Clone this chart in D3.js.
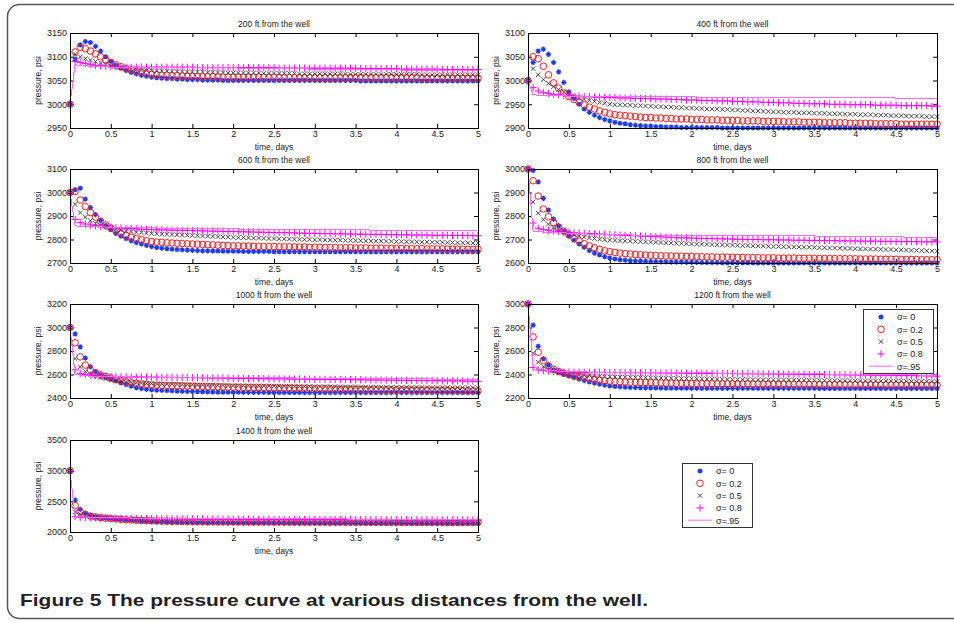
<!DOCTYPE html>
<html>
<head>
<meta charset="utf-8">
<script src="https://cdn.jsdelivr.net/npm/d3@7"></script>
<style>
  body { margin: 0; background: #fff; }
  svg { display: block; }
  text { font-family: "Liberation Sans", Arial, sans-serif; fill: #222; }
</style>
</head>
<body>
<svg id="chart" width="954" height="623"></svg>
<script>
// sample times, days
const times = [0,0.0625,0.125,0.1875,0.25,0.3125,0.375,0.4375,0.5,0.5625,0.625,0.6875,0.75,0.8125,0.875,0.9375,1,
  1.0625,1.125,1.1875,1.25,1.3125,1.375,1.4375,1.5,1.5625,1.625,1.6875,1.75,1.8125,1.875,1.9375,2,
  2.0625,2.125,2.1875,2.25,2.3125,2.375,2.4375,2.5,2.5625,2.625,2.6875,2.75,2.8125,2.875,2.9375,3,
  3.0625,3.125,3.1875,3.25,3.3125,3.375,3.4375,3.5,3.5625,3.625,3.6875,3.75,3.8125,3.875,3.9375,4,
  4.0625,4.125,4.1875,4.25,4.3125,4.375,4.4375,4.5,4.5625,4.625,4.6875,4.75,4.8125,4.875,4.9375,5];

const xTicks = [0, 0.5, 1, 1.5, 2, 2.5, 3, 3.5, 4, 4.5, 5];
const sigmaLabels = ["σ= 0", "σ= 0.2", "σ= 0.5", "σ= 0.8", "σ=.95"];

// 200 ft
const p200_s00 = [3000,3095,3125,3132,3130,3122,3112,3100,3090,3082,3076,3071,3067,3064,3061,3059,3057,
  3056,3055,3054,3054,3053,3053,3052,3052,3052,3051,3051,3051,3051,3050,3050,3050,
  3050,3050,3050,3050,3050,3050,3050,3050,3050,3050,3050,3050,3050,3050,3050,3050,
  3050,3050,3050,3050,3050,3050,3050,3050,3049,3049,3049,3049,3049,3049,3049,3049,
  3049,3049,3049,3049,3049,3049,3049,3049,3049,3049,3049,3049,3049,3049,3049,3049];
const p200_s02 = [3000,3110,3120,3117,3112,3106,3100,3094,3088,3083,3079,3075,3072,3069,3067,3065,3063,
  3062,3061,3061,3060,3060,3059,3059,3059,3058,3058,3058,3058,3057,3057,3057,3057,
  3057,3057,3057,3057,3057,3057,3057,3057,3056,3056,3056,3056,3056,3056,3056,3056,
  3056,3056,3056,3056,3056,3056,3056,3056,3056,3056,3056,3056,3056,3056,3056,3056,
  3056,3056,3056,3056,3055,3055,3055,3055,3055,3055,3055,3055,3055,3055,3055,3055];
const p200_s05 = [3000,3105,3100,3096,3093,3090,3087,3084,3081,3079,3077,3075,3074,3073,3072,3071,3071,
  3070,3070,3070,3069,3069,3069,3068,3068,3068,3068,3067,3067,3067,3067,3066,3066,
  3066,3066,3066,3066,3066,3065,3065,3065,3065,3065,3065,3065,3064,3064,3064,3064,
  3064,3064,3064,3064,3064,3064,3063,3063,3063,3063,3063,3063,3063,3063,3063,3063,
  3063,3063,3063,3063,3062,3062,3062,3062,3062,3062,3062,3062,3062,3062,3062,3062];
const p200_s08 = [3000,3090,3088,3086,3084,3082,3081,3080,3079,3079,3078,3078,3078,3078,3078,3078,3078,
  3078,3078,3078,3078,3078,3078,3078,3078,3077,3077,3077,3077,3077,3077,3077,3077,
  3077,3077,3077,3077,3077,3077,3077,3077,3076,3076,3076,3076,3076,3076,3076,3076,
  3076,3076,3076,3076,3076,3076,3076,3076,3075,3075,3075,3075,3075,3075,3075,3075,
  3074,3074,3074,3074,3074,3074,3074,3074,3073,3073,3073,3073,3073,3073,3073,3073];
const p200_s095 = [3000,3083,3082,3081,3080,3080,3079,3079,3078,3078,3078,3077,3077,3077,3077,3077,3077,
  3077,3077,3077,3077,3077,3077,3077,3077,3077,3077,3077,3077,3077,3077,3077,3077,
  3076,3076,3076,3076,3076,3076,3076,3076,3076,3076,3076,3076,3076,3076,3073,3073,
  3073,3073,3073,3073,3073,3073,3073,3073,3073,3073,3073,3073,3073,3073,3073,3073,
  3072,3072,3072,3072,3072,3072,3072,3072,3072,3072,3072,3072,3072,3072,3072,3072];

// 400 ft
const p400_s00 = [3000,3038,3062,3066,3055,3038,3018,2996,2976,2962,2950,2940,2933,2927,2922,2918,2915,
  2912,2910,2909,2907,2906,2905,2904,2904,2903,2903,2902,2902,2902,2901,2901,2901,
  2901,2901,2901,2901,2901,2900,2900,2900,2900,2900,2900,2900,2900,2900,2900,2900,
  2900,2900,2900,2900,2900,2900,2900,2900,2900,2900,2900,2900,2900,2900,2900,2900,
  2900,2900,2900,2900,2900,2900,2900,2900,2900,2900,2900,2900,2900,2900,2900,2900];
const p400_s02 = [3000,3050,3046,3030,3012,2995,2984,2974,2966,2960,2954,2949,2944,2940,2936,2933,2930,
  2928,2927,2926,2925,2924,2923,2922,2922,2921,2921,2920,2920,2919,2919,2919,2918,
  2918,2918,2917,2917,2917,2916,2916,2916,2916,2915,2915,2915,2915,2914,2914,2914,
  2914,2913,2913,2913,2913,2912,2912,2912,2912,2911,2911,2911,2911,2911,2910,2910,
  2910,2910,2910,2909,2909,2909,2909,2909,2908,2908,2908,2908,2908,2908,2908,2908];
const p400_s05 = [3000,3025,3012,3002,2994,2987,2981,2976,2971,2967,2964,2961,2958,2956,2954,2952,2950,
  2949,2949,2948,2948,2947,2947,2946,2946,2945,2945,2944,2944,2943,2943,2942,2942,
  2941,2941,2940,2940,2940,2939,2939,2938,2938,2937,2937,2936,2936,2935,2935,2934,
  2934,2933,2933,2933,2932,2932,2932,2931,2931,2931,2930,2930,2930,2929,2929,2929,
  2928,2928,2928,2927,2927,2927,2926,2926,2926,2925,2925,2925,2925,2924,2924,2924];
const p400_s08 = [3000,2985,2978,2975,2973,2971,2970,2969,2968,2967,2967,2966,2966,2965,2965,2964,2964,
  2964,2963,2963,2963,2962,2962,2962,2962,2961,2961,2961,2960,2960,2960,2959,2959,
  2959,2958,2958,2958,2957,2957,2957,2956,2956,2956,2955,2955,2955,2954,2954,2954,
  2953,2953,2953,2952,2952,2952,2951,2951,2951,2951,2950,2950,2950,2950,2949,2949,
  2949,2949,2949,2948,2948,2948,2948,2948,2947,2947,2947,2947,2947,2947,2946,2946];
const p400_s095 = [3000,2970,2969,2969,2969,2968,2968,2968,2967,2967,2967,2967,2966,2966,2966,2966,2966,
  2966,2966,2966,2966,2966,2966,2966,2966,2966,2966,2966,2966,2966,2966,2966,2966,
  2965,2965,2965,2965,2965,2965,2965,2965,2965,2965,2965,2965,2965,2965,2965,2965,
  2965,2965,2965,2965,2965,2965,2965,2965,2965,2965,2965,2965,2965,2965,2965,2965,
  2964,2964,2964,2964,2964,2964,2964,2963,2963,2963,2963,2963,2962,2962,2962,2962];

// 600 ft
const p600_s00 = [3000,3012,3018,2972,2936,2906,2881,2860,2842,2826,2814,2804,2795,2787,2781,2775,2770,
  2766,2763,2761,2759,2757,2756,2755,2754,2753,2752,2752,2751,2751,2750,2750,2750,
  2750,2749,2749,2749,2749,2749,2749,2748,2748,2748,2748,2748,2748,2748,2748,2748,
  2748,2748,2748,2748,2748,2748,2748,2748,2748,2748,2748,2748,2748,2748,2748,2748,
  2748,2748,2748,2748,2748,2748,2748,2748,2748,2748,2748,2748,2748,2748,2748,2748];
const p600_s02 = [3000,3004,2968,2940,2915,2895,2877,2862,2849,2837,2826,2817,2810,2804,2799,2795,2791,
  2789,2788,2786,2785,2784,2783,2782,2781,2780,2779,2778,2777,2776,2775,2774,2773,
  2773,2772,2772,2771,2771,2770,2770,2770,2769,2769,2769,2768,2768,2768,2767,2767,
  2767,2766,2766,2766,2765,2765,2765,2764,2764,2764,2763,2763,2763,2762,2762,2762,
  2762,2761,2761,2761,2761,2760,2760,2760,2760,2759,2759,2759,2759,2758,2758,2758];
const p600_s05 = [3000,2950,2915,2895,2880,2869,2860,2853,2848,2844,2840,2837,2834,2831,2829,2827,2825,
  2824,2823,2822,2821,2820,2819,2818,2817,2816,2815,2814,2813,2812,2811,2810,2809,
  2808,2808,2807,2806,2806,2805,2804,2804,2803,2802,2802,2801,2801,2800,2800,2799,
  2799,2798,2798,2797,2797,2796,2796,2795,2795,2794,2794,2793,2793,2792,2792,2791,
  2791,2790,2790,2790,2789,2789,2788,2788,2788,2787,2787,2786,2786,2786,2785,2785];
const p600_s08 = [3000,2885,2872,2866,2862,2859,2856,2854,2852,2850,2849,2847,2846,2845,2844,2843,2842,
  2841,2841,2840,2840,2839,2839,2838,2838,2837,2837,2836,2836,2835,2835,2834,2834,
  2833,2833,2832,2832,2831,2831,2830,2830,2829,2829,2828,2828,2827,2827,2826,2826,
  2825,2825,2825,2824,2824,2824,2823,2823,2823,2822,2822,2822,2821,2821,2821,2820,
  2820,2820,2819,2819,2819,2819,2818,2818,2818,2818,2817,2817,2817,2817,2816,2816];
const p600_s095 = [3000,2858,2856,2855,2855,2854,2854,2853,2853,2852,2852,2851,2851,2850,2850,2849,2849,
  2849,2848,2848,2848,2847,2847,2847,2847,2846,2846,2846,2846,2845,2845,2845,2845,
  2845,2844,2844,2844,2844,2844,2843,2843,2843,2843,2843,2842,2842,2842,2842,2842,
  2842,2842,2841,2841,2841,2841,2841,2841,2841,2841,2840,2840,2840,2840,2840,2840,
  2840,2840,2840,2840,2840,2840,2840,2840,2840,2840,2840,2840,2840,2840,2840,2840];

// 800 ft
const p800_s00 = [3000,2994,2945,2875,2825,2787,2759,2735,2714,2697,2681,2667,2653,2642,2634,2627,2621,
  2617,2614,2612,2610,2609,2608,2607,2606,2606,2605,2605,2604,2604,2604,2603,2603,
  2603,2602,2602,2602,2602,2601,2601,2601,2601,2601,2601,2600,2600,2600,2600,2600,
  2600,2600,2600,2600,2600,2600,2600,2600,2600,2600,2600,2600,2600,2600,2600,2600,
  2600,2600,2600,2600,2600,2600,2600,2600,2600,2600,2600,2600,2600,2600,2600,2600];
const p800_s02 = [3000,2950,2885,2830,2797,2772,2752,2735,2720,2705,2693,2682,2673,2665,2658,2652,2648,
  2645,2642,2640,2638,2636,2635,2634,2633,2632,2631,2630,2630,2629,2629,2628,2628,
  2627,2627,2626,2626,2625,2625,2625,2624,2624,2624,2623,2623,2623,2622,2622,2622,
  2621,2621,2621,2621,2620,2620,2620,2620,2619,2619,2619,2619,2618,2618,2618,2618,
  2617,2617,2617,2617,2616,2616,2616,2616,2615,2615,2615,2615,2614,2614,2614,2614];
const p800_s05 = [3000,2860,2812,2785,2765,2750,2740,2732,2726,2720,2715,2711,2707,2704,2701,2699,2697,
  2696,2695,2694,2693,2692,2691,2690,2689,2688,2687,2686,2685,2684,2683,2682,2681,
  2680,2680,2679,2678,2678,2677,2676,2676,2675,2674,2674,2673,2672,2672,2671,2670,
  2670,2669,2669,2668,2668,2667,2667,2666,2665,2665,2664,2664,2663,2662,2662,2661,
  2660,2660,2659,2659,2658,2657,2657,2656,2656,2655,2654,2654,2653,2652,2651,2650];
const p800_s08 = [3000,2770,2748,2742,2739,2736,2734,2732,2730,2728,2727,2726,2725,2724,2723,2722,2721,
  2720,2719,2718,2717,2716,2715,2714,2713,2712,2711,2710,2709,2708,2707,2707,2706,
  2705,2705,2704,2704,2703,2703,2702,2702,2701,2701,2700,2700,2700,2699,2699,2699,
  2698,2698,2698,2697,2697,2697,2696,2696,2696,2695,2695,2695,2694,2694,2694,2694,
  2693,2693,2693,2693,2692,2692,2692,2692,2691,2691,2691,2691,2690,2690,2690,2690];
const p800_s095 = [3000,2735,2733,2732,2731,2730,2729,2728,2727,2726,2725,2724,2723,2722,2722,2721,2721,
  2720,2720,2720,2719,2719,2719,2718,2718,2718,2718,2717,2717,2717,2717,2717,2716,
  2716,2716,2716,2716,2716,2716,2716,2716,2716,2716,2716,2716,2716,2716,2716,2716,
  2715,2715,2715,2715,2715,2715,2715,2715,2714,2714,2714,2714,2714,2714,2714,2714,
  2713,2713,2713,2712,2712,2712,2711,2711,2711,2710,2710,2710,2710,2709,2709,2709];

// 1000 ft
const p1000_s00 = [3000,2945,2835,2740,2665,2622,2596,2578,2560,2545,2528,2514,2500,2488,2480,2474,2470,
  2467,2465,2463,2461,2459,2457,2456,2455,2454,2453,2452,2451,2450,2450,2449,2449,
  2449,2448,2448,2448,2448,2448,2447,2447,2447,2447,2447,2447,2447,2446,2446,2446,
  2446,2446,2446,2446,2446,2446,2446,2446,2446,2446,2446,2446,2446,2446,2446,2446,
  2446,2446,2446,2446,2446,2446,2446,2446,2446,2446,2446,2446,2446,2446,2446,2446];
const p1000_s02 = [3000,2870,2750,2680,2640,2615,2597,2583,2570,2558,2547,2538,2530,2524,2519,2515,2511,
  2509,2508,2506,2505,2504,2503,2501,2500,2499,2498,2497,2496,2495,2494,2493,2492,
  2491,2490,2490,2489,2488,2487,2487,2486,2485,2484,2484,2483,2482,2481,2481,2480,
  2479,2478,2478,2477,2476,2476,2475,2474,2474,2473,2472,2472,2471,2470,2470,2469,
  2468,2468,2467,2467,2466,2466,2465,2465,2464,2464,2463,2463,2462,2462,2461,2460];
const p1000_s05 = [3000,2735,2665,2625,2600,2585,2573,2564,2556,2549,2543,2538,2534,2530,2527,2524,2522,
  2520,2519,2518,2517,2516,2515,2514,2513,2512,2511,2510,2509,2508,2507,2506,2505,
  2505,2504,2504,2503,2503,2502,2502,2501,2501,2500,2500,2499,2499,2498,2498,2497,
  2497,2497,2496,2496,2495,2495,2495,2494,2494,2493,2493,2493,2492,2492,2491,2491,
  2491,2491,2490,2490,2490,2490,2489,2489,2489,2489,2488,2488,2488,2488,2488,2488];
const p1000_s08 = [3000,2640,2610,2600,2594,2590,2587,2584,2582,2581,2580,2580,2579,2579,2578,2578,2577,
  2577,2576,2576,2575,2575,2574,2574,2573,2573,2572,2571,2570,2570,2569,2568,2567,
  2567,2566,2566,2565,2565,2564,2564,2563,2563,2562,2562,2561,2561,2560,2560,2559,
  2559,2558,2558,2557,2557,2556,2556,2555,2555,2554,2554,2553,2553,2552,2552,2551,
  2550,2550,2549,2549,2548,2548,2547,2547,2546,2546,2545,2545,2544,2544,2543,2542];
const p1000_s095 = [3000,2600,2594,2590,2587,2585,2583,2582,2581,2580,2580,2579,2579,2578,2578,2578,2577,
  2577,2577,2577,2576,2576,2576,2576,2575,2575,2575,2575,2574,2574,2574,2574,2573,
  2573,2573,2573,2572,2572,2572,2572,2571,2571,2571,2571,2570,2570,2570,2570,2569,
  2569,2569,2568,2568,2568,2567,2567,2567,2566,2566,2566,2565,2565,2565,2564,2564,
  2564,2563,2563,2563,2562,2562,2562,2561,2561,2560,2559,2558,2557,2556,2555,2554];

// 1200 ft
const p1200_s00 = [3000,2820,2640,2535,2481,2440,2420,2403,2388,2374,2361,2348,2337,2327,2318,2310,2302,
  2298,2295,2292,2290,2289,2288,2287,2286,2285,2285,2284,2284,2283,2283,2283,2282,
  2282,2282,2282,2282,2282,2282,2282,2282,2282,2282,2282,2282,2282,2282,2282,2282,
  2282,2282,2282,2282,2282,2282,2282,2282,2281,2281,2281,2281,2281,2281,2281,2281,
  2281,2281,2281,2281,2281,2281,2281,2281,2281,2281,2281,2281,2281,2281,2281,2281];
const p1200_s02 = [3000,2720,2590,2520,2475,2445,2425,2410,2398,2388,2380,2372,2365,2358,2352,2347,2343,
  2340,2338,2336,2334,2333,2332,2331,2330,2329,2328,2327,2326,2325,2324,2323,2322,
  2322,2321,2321,2320,2320,2319,2319,2319,2318,2318,2318,2317,2317,2317,2316,2316,
  2316,2316,2315,2315,2315,2315,2314,2314,2314,2314,2313,2313,2313,2313,2312,2312,
  2312,2312,2312,2311,2311,2311,2311,2311,2310,2310,2310,2310,2310,2310,2310,2310];
const p1200_s05 = [3000,2580,2505,2468,2445,2430,2420,2412,2406,2401,2397,2393,2390,2387,2384,2382,2380,
  2379,2378,2377,2376,2375,2374,2373,2372,2371,2370,2369,2368,2367,2366,2365,2364,
  2363,2363,2362,2362,2361,2360,2360,2359,2358,2358,2357,2357,2356,2355,2355,2354,
  2354,2353,2353,2352,2352,2351,2351,2350,2350,2349,2349,2348,2348,2347,2347,2346,
  2346,2345,2345,2345,2344,2344,2343,2343,2343,2342,2342,2341,2341,2341,2340,2340];
const p1200_s08 = [3000,2460,2440,2435,2430,2427,2424,2422,2420,2420,2419,2419,2419,2418,2418,2418,2417,
  2417,2417,2416,2416,2416,2415,2415,2415,2414,2414,2413,2413,2412,2412,2411,2410,
  2410,2410,2409,2409,2409,2408,2408,2408,2407,2407,2406,2406,2406,2405,2405,2404,
  2404,2403,2403,2402,2402,2401,2401,2400,2400,2399,2399,2398,2398,2397,2397,2396,
  2396,2395,2395,2394,2394,2393,2393,2392,2391,2391,2390,2389,2389,2388,2387,2386];
const p1200_s095 = [3000,2470,2445,2440,2436,2432,2429,2427,2425,2424,2423,2422,2421,2421,2420,2420,2419,
  2419,2419,2418,2418,2418,2417,2417,2417,2416,2416,2416,2415,2415,2415,2414,2414,
  2414,2413,2413,2413,2412,2412,2412,2411,2411,2411,2410,2410,2410,2409,2409,2409,
  2408,2408,2408,2407,2407,2406,2406,2405,2405,2404,2404,2403,2403,2402,2402,2401,
  2401,2400,2400,2399,2399,2398,2398,2397,2397,2396,2396,2396,2395,2395,2395,2395];

// 1400 ft
const p1400_s00 = [3000,2520,2370,2305,2270,2250,2238,2228,2220,2212,2205,2198,2192,2186,2181,2177,2173,
  2169,2166,2163,2160,2158,2156,2154,2152,2151,2150,2149,2149,2148,2148,2147,2147,
  2147,2146,2146,2146,2146,2145,2145,2145,2145,2145,2144,2144,2144,2144,2144,2144,
  2143,2143,2143,2143,2143,2143,2143,2143,2143,2143,2143,2143,2143,2143,2143,2143,
  2142,2142,2142,2142,2142,2142,2142,2142,2142,2142,2142,2142,2142,2142,2142,2142];
const p1400_s02 = [3000,2430,2330,2285,2260,2245,2235,2226,2219,2212,2206,2200,2195,2191,2187,2184,2181,
  2179,2177,2176,2175,2174,2173,2172,2171,2170,2170,2169,2169,2168,2168,2167,2167,
  2166,2166,2166,2165,2165,2165,2164,2164,2164,2163,2163,2163,2162,2162,2162,2161,
  2161,2161,2160,2160,2160,2160,2159,2159,2159,2159,2158,2158,2158,2158,2157,2157,
  2157,2157,2157,2156,2156,2156,2156,2156,2155,2155,2155,2155,2155,2155,2155,2155];
const p1400_s05 = [3000,2330,2290,2265,2250,2240,2232,2226,2221,2217,2214,2211,2208,2206,2204,2202,2200,
  2199,2198,2197,2196,2195,2194,2193,2192,2191,2190,2189,2188,2187,2186,2185,2184,
  2184,2183,2183,2182,2182,2181,2181,2180,2180,2179,2179,2178,2178,2178,2177,2177,
  2177,2176,2176,2176,2175,2175,2175,2174,2174,2174,2173,2173,2173,2173,2172,2172,
  2172,2172,2172,2171,2171,2171,2171,2171,2170,2170,2170,2170,2170,2170,2170,2170];
const p1400_s08 = [3000,2250,2240,2236,2233,2231,2229,2227,2225,2224,2223,2222,2221,2220,2219,2218,2217,
  2217,2216,2215,2215,2214,2214,2213,2213,2212,2212,2211,2211,2210,2210,2209,2209,
  2209,2208,2208,2207,2207,2207,2206,2206,2206,2205,2205,2205,2204,2204,2204,2203,
  2203,2203,2202,2202,2202,2202,2201,2201,2201,2201,2200,2200,2200,2200,2199,2199,
  2199,2199,2198,2198,2198,2198,2197,2197,2197,2197,2197,2196,2196,2196,2196,2196];
const p1400_s095 = [3000,2250,2246,2243,2240,2238,2236,2234,2232,2231,2230,2229,2228,2227,2226,2225,2224,
  2224,2223,2223,2222,2222,2221,2221,2220,2220,2219,2219,2218,2218,2218,2217,2217,
  2217,2216,2216,2216,2215,2215,2215,2215,2214,2214,2214,2214,2213,2213,2213,2213,
  2213,2212,2212,2212,2212,2212,2211,2211,2211,2211,2211,2211,2211,2210,2210,2210,
  2210,2210,2210,2210,2210,2210,2210,2210,2210,2210,2210,2210,2210,2210,2210,2210];

// panel list: distance, y axis, series, grid position
const panels = [
  { dist: 200,  yDomain: [2950, 3150], yTicks: [2950, 3000, 3050, 3100, 3150], series: [p200_s00, p200_s02, p200_s05, p200_s08, p200_s095], col: 0, row: 0 },
  { dist: 400,  yDomain: [2900, 3100], yTicks: [2900, 2950, 3000, 3050, 3100], series: [p400_s00, p400_s02, p400_s05, p400_s08, p400_s095], col: 1, row: 0 },
  { dist: 600,  yDomain: [2700, 3100], yTicks: [2700, 2800, 2900, 3000, 3100], series: [p600_s00, p600_s02, p600_s05, p600_s08, p600_s095], col: 0, row: 1 },
  { dist: 800,  yDomain: [2600, 3000], yTicks: [2600, 2700, 2800, 2900, 3000], series: [p800_s00, p800_s02, p800_s05, p800_s08, p800_s095], col: 1, row: 1 },
  { dist: 1000, yDomain: [2400, 3200], yTicks: [2400, 2600, 2800, 3000, 3200], series: [p1000_s00, p1000_s02, p1000_s05, p1000_s08, p1000_s095], col: 0, row: 2 },
  { dist: 1200, yDomain: [2200, 3000], yTicks: [2200, 2400, 2600, 2800, 3000], series: [p1200_s00, p1200_s02, p1200_s05, p1200_s08, p1200_s095], col: 1, row: 2 },
  { dist: 1400, yDomain: [2000, 3500], yTicks: [2000, 2500, 3000, 3500], series: [p1400_s00, p1400_s02, p1400_s05, p1400_s08, p1400_s095], col: 0, row: 3 }
];

const colX = [[70, 478], [528, 937]];
const rowY = [[33, 128], [169, 263], [304, 398], [440, 532]];

const svg = d3.select("#chart");

// outer figure frame
svg.append("rect")
  .attr("x", 7.5).attr("y", 4.5).attr("width", 990).attr("height", 614).attr("rx", 12)
  .attr("fill", "none").attr("stroke", "#555").attr("stroke-width", 1.5);

// marker shapes (MATLAB style '*', 'o', 'x', '+')
const markerPaths = {
  star: "M-2.6,0H2.6M0,-2.6V2.6M-1.8,-1.8L1.8,1.8M-1.8,1.8L1.8,-1.8",
  times: "M-2.2,-2.2L2.2,2.2M-2.2,2.2L2.2,-2.2",
  plus: "M-3.6,0H3.6M0,-3.6V3.6"
};
const styles = [
  { type: "star",   color: "#1f3cf2", width: 1.3 },
  { type: "circle", color: "#f52020", width: 1 },
  { type: "times",  color: "#333",    width: 0.9 },
  { type: "plus",   color: "#ff00ff", width: 1 },
  { type: "line",   color: "#ff6cff", width: 1 }
];

function drawMarker(g, st, x, y) {
  if (st.type === "circle") {
    g.append("circle").attr("cx", x).attr("cy", y).attr("r", 3.3)
      .attr("fill", "none").attr("stroke", st.color).attr("stroke-width", st.width);
  } else {
    g.append("path").attr("d", markerPaths[st.type])
      .attr("transform", `translate(${x},${y})`)
      .attr("fill", "none").attr("stroke", st.color).attr("stroke-width", st.width);
  }
}

function styleAxis(sel) {
  sel.select(".domain").remove();
  sel.selectAll("line").attr("stroke", "#000");
  sel.selectAll("text").attr("font-size", 9).attr("font-family", "Liberation Sans, Arial, sans-serif").attr("fill", "#222");
}

panels.forEach(p => {
  const [x0, x1] = colX[p.col];
  const [y0, y1] = rowY[p.row];
  const x = d3.scaleLinear().domain([0, 5]).range([x0, x1]);
  const y = d3.scaleLinear().domain(p.yDomain).range([y1, y0]);
  const g = svg.append("g");

  g.append("rect").attr("x", x0).attr("y", y0).attr("width", x1 - x0).attr("height", y1 - y0)
    .attr("fill", "#fff");

  const fmt = d => String(d);
  g.append("g").attr("transform", `translate(0,${y1})`)
    .call(d3.axisBottom(x).tickValues(xTicks).tickSize(-4).tickSizeOuter(0).tickPadding(3).tickFormat(fmt))
    .call(styleAxis);
  g.append("g").attr("transform", `translate(0,${y0})`)
    .call(d3.axisTop(x).tickValues(xTicks).tickSize(-4).tickSizeOuter(0).tickFormat(""))
    .call(styleAxis);
  g.append("g").attr("transform", `translate(${x0},0)`)
    .call(d3.axisLeft(y).tickValues(p.yTicks).tickSize(-4).tickSizeOuter(0).tickPadding(3).tickFormat(fmt))
    .call(styleAxis);
  g.append("g").attr("transform", `translate(${x1},0)`)
    .call(d3.axisRight(y).tickValues(p.yTicks).tickSize(-4).tickSizeOuter(0).tickFormat(""))
    .call(styleAxis);

  // data
  const marks = g.append("g");
  p.series.forEach((vals, si) => {
    const st = styles[si];
    if (st.type === "line") {
      marks.append("path")
        .datum(vals)
        .attr("fill", "none").attr("stroke", st.color).attr("stroke-width", st.width)
        .attr("shape-rendering", "crispEdges")
        .attr("d", d3.line().x((d, i) => x(times[i])).y(d => y(d)));
    } else {
      vals.forEach((v, i) => drawMarker(marks, st, x(times[i]), y(v)));
    }
  });

  // frame
  g.append("rect").attr("x", x0 + 0.5).attr("y", y0 + 0.5).attr("width", x1 - x0).attr("height", y1 - y0)
    .attr("fill", "none").attr("stroke", "#000").attr("stroke-width", 1);

  // labels
  g.append("text").attr("x", (x0 + x1) / 2).attr("y", y0 - 6).attr("text-anchor", "middle")
    .attr("font-size", 8.5).text(`${p.dist} ft from the well`);
  g.append("text").attr("x", (x0 + x1) / 2).attr("y", y1 + 22).attr("text-anchor", "middle")
    .attr("font-size", 8.5).text("time, days");
  g.append("text").attr("transform", `translate(${x0 - 29},${(y0 + y1) / 2}) rotate(-90)`)
    .attr("text-anchor", "middle").attr("font-size", 8.5).text("pressure, psi");
});

function drawLegend(lx, ly) {
  const g = svg.append("g");
  g.append("rect").attr("x", lx + 0.5).attr("y", ly + 0.5).attr("width", 70).attr("height", 64)
    .attr("fill", "#fff").attr("stroke", "#333").attr("stroke-width", 1);
  sigmaLabels.forEach((lab, i) => {
    const cy = ly + 8 + i * 12.3;
    const st = styles[i];
    if (st.type === "line") {
      g.append("line").attr("x1", lx + 6).attr("x2", lx + 30).attr("y1", cy).attr("y2", cy)
        .attr("stroke", st.color).attr("stroke-width", st.width);
    } else {
      drawMarker(g, st, lx + 18, cy);
    }
    g.append("text").attr("x", lx + 34).attr("y", cy + 3.3).attr("font-size", 9).text(lab);
  });
}
drawLegend(863, 309);
drawLegend(682, 463);

// caption
svg.append("text").attr("x", 20).attr("y", 606)
  .attr("font-family", "Noto Sans, Open Sans, sans-serif").attr("font-weight", "bold").attr("font-size", 17)
  .attr("textLength", 628).attr("lengthAdjust", "spacingAndGlyphs")
  .text("Figure 5  The pressure curve at various distances from the well.");
</script>
</body>
</html>
